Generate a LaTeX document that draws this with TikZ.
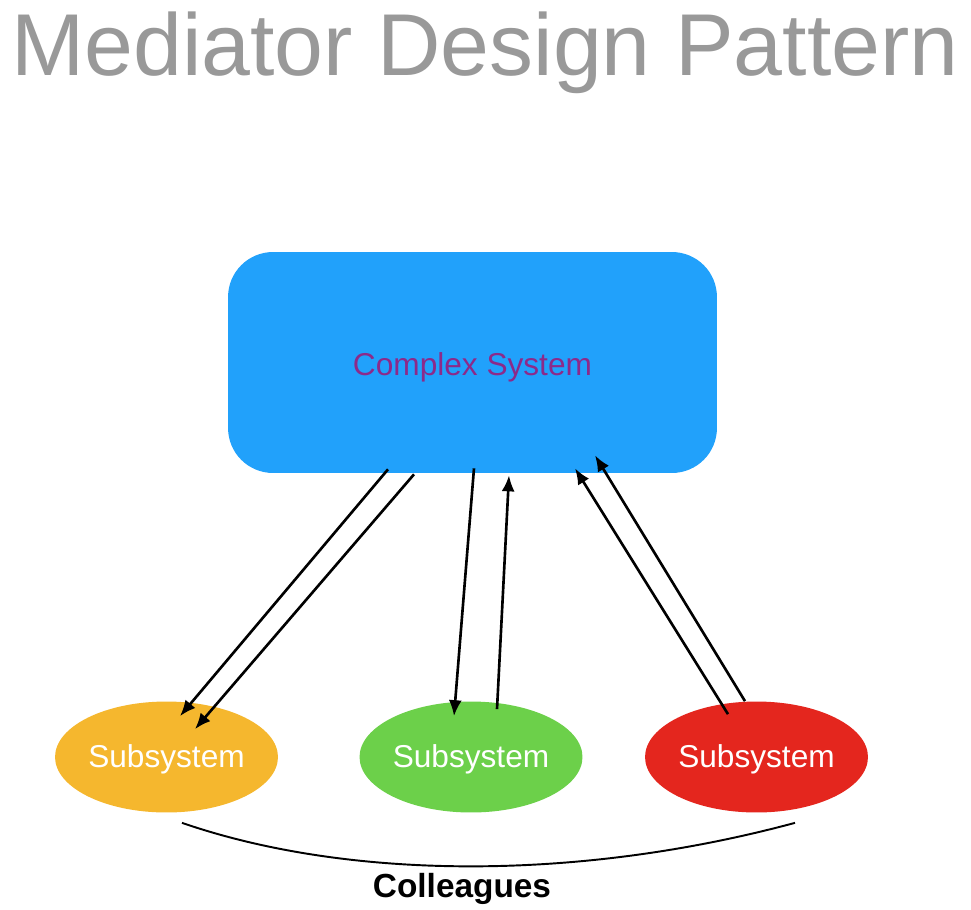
\documentclass[tikz,border=0pt]{standalone}
\usepackage{fontspec}
\setmainfont{Liberation Sans}
\usetikzlibrary{shapes.geometric, arrows.meta, positioning, calc}

\definecolor{titlegray}{RGB}{153,153,153}
\definecolor{sysblue}{RGB}{33,161,251}
\definecolor{syspurple}{RGB}{140,42,138}
\definecolor{suborange}{RGB}{245,183,46}
\definecolor{subgreen}{RGB}{108,208,74}
\definecolor{subred}{RGB}{228,38,30}

\begin{document}
\begin{tikzpicture}[x=0.02cm, y=-0.02cm,
        flow/.style={-{Latex[length=0.32cm, width=0.26cm]}, line width=1.5pt},
        subsys/.style={ellipse, minimum width=4.46cm, minimum height=2.22cm, inner sep=0pt, text height=0.4cm, text depth=0cm, text=white, font=\fontsize{18}{20}\selectfont}]
        \useasboundingbox (0,0) rectangle (971,910);

        % Title
        \node[font=\fontsize{50}{56}\selectfont, text=titlegray, anchor=base] (title) at (485,75) {Mediator Design Pattern};

        % Mediator box
        \node[fill=sysblue, rounded corners=0.9cm, minimum width=9.78cm, minimum height=4.42cm, text height=0.5cm, text depth=0cm, text=syspurple, font=\fontsize{18}{20}\selectfont] (sys) at (472.5,362.5) {Complex System};

        % Colleagues
        \node[subsys, fill=suborange] (orange) at (166.5,757) {Subsystem};
        \node[subsys, fill=subgreen] (green) at (471,757) {Subsystem};
        \node[subsys, fill=subred] (red) at (756.5,757) {Subsystem};

        % Messages
        \draw[flow] ($(sys.south)+(-84.5,-4)$) -- ($(orange.north)+(13.5,15)$);
        \draw[flow] ($(sys.south)+(-58.5,1)$) -- ($(orange.north)+(28.5,28)$);
        \draw[flow] ($(sys.south)+(1.5,-5)$) -- ($(green.north)+(-17,15)$);
        \draw[flow] ($(green.north)+(26,8)$) -- ($(sys.south)+(36.5,2)$);
        \draw[flow] ($(red.north)+(-28.5,13)$) -- ($(sys.south)+(102.5,-5)$);
        \draw[flow] ($(red.north)+(-11.5,0)$) -- ($(sys.south)+(122.5,-18)$);

        % Brace
        \draw[line width=1.1pt] ($(orange.south)+(15.5,10)$) .. controls ($(green.south)+(-121,68)$) and ($(green.south)+(109,68)$) .. ($(red.south)+(38.5,10)$);
        \node[font=\bfseries\fontsize{19}{22}\selectfont, anchor=base] (colleagues) at ($(green.south)+(-9,85)$) {Colleagues};
    \end{tikzpicture}
\end{document}
